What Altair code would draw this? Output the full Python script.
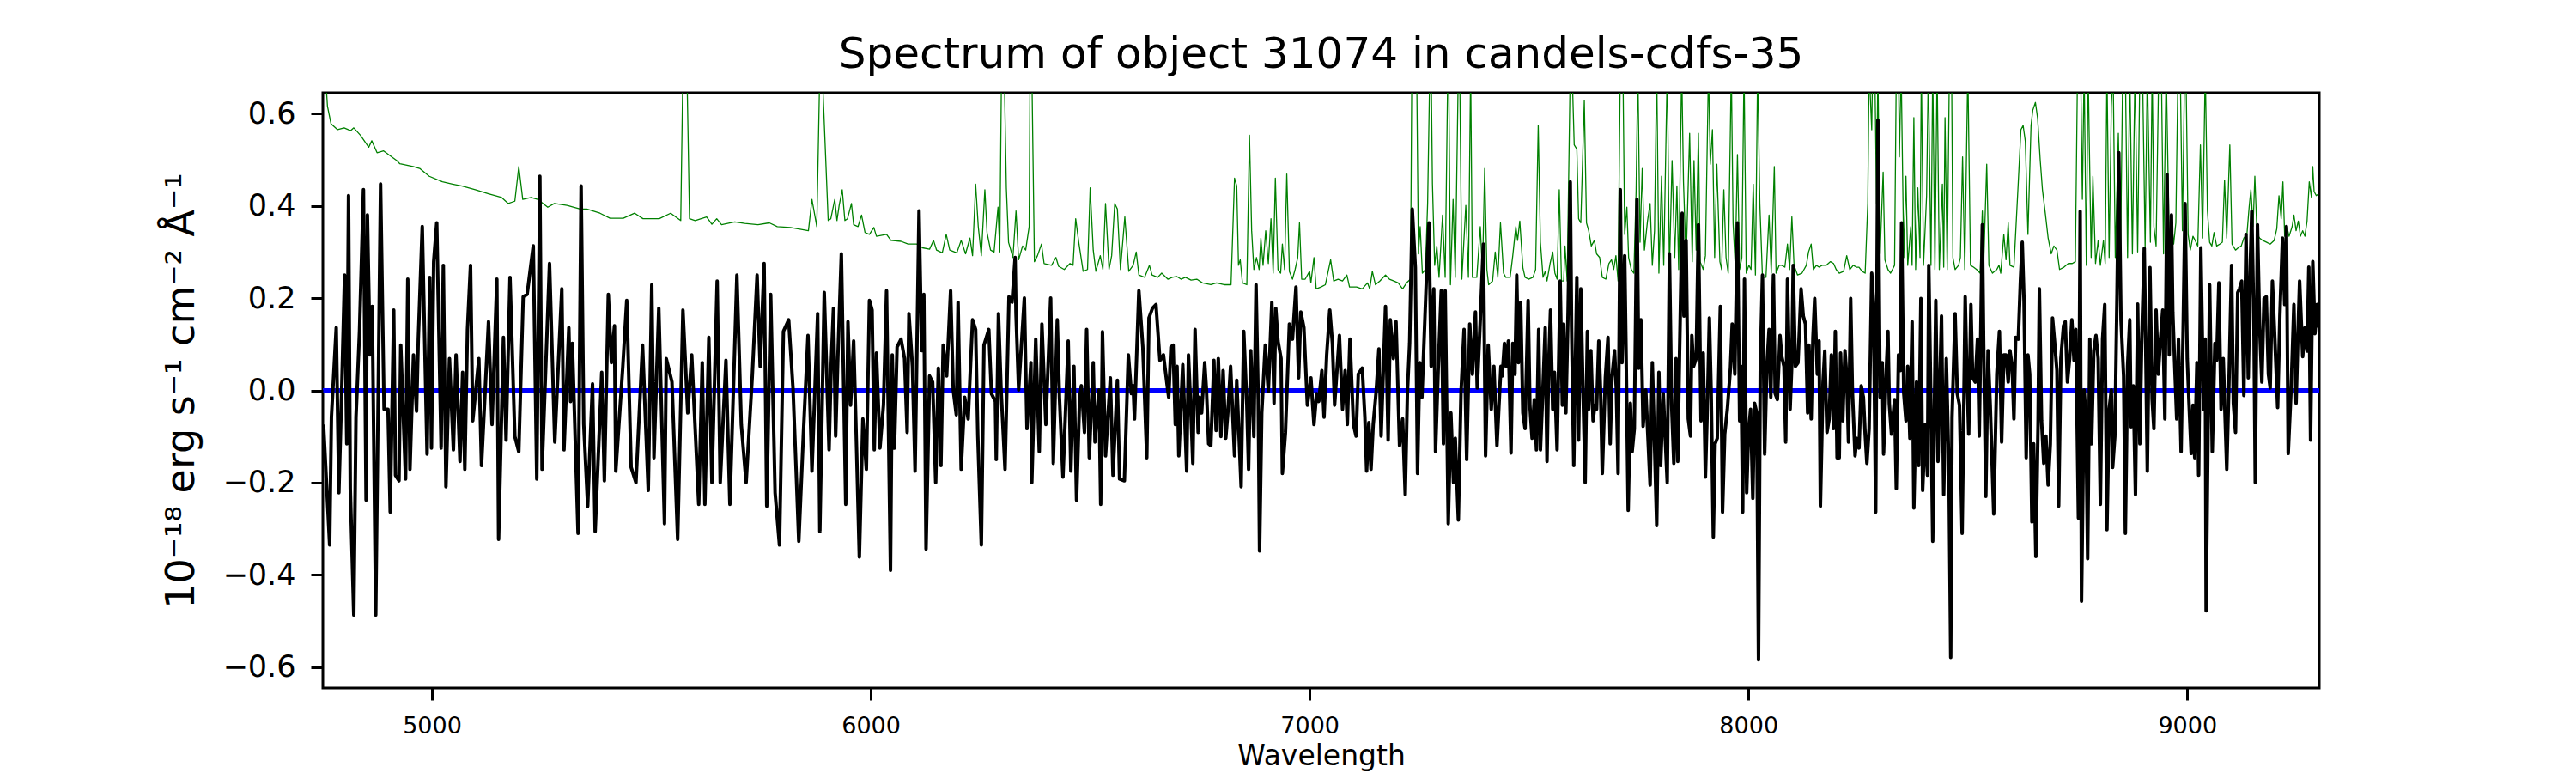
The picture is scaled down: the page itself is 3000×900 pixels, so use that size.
import altair as alt
import pandas as pd

flux_wave_1 = [4753, 4767, 4771, 4782, 4788, 4794, 4801, 4806, 4810, 4814, 4822, 4827, 4835, 4844, 4850,
               4853, 4859, 4864, 4872, 4883, 4891, 4900, 4905, 4913, 4917, 4925, 4929, 4940, 4945, 4950,
               4958, 4965, 4969, 4978, 4989, 4995, 4999, 5004, 5011, 5021, 5026, 5032, 5040, 5049, 5055,
               5064, 5070, 5075, 5081, 5088, 5093, 5107, 5113, 5129, 5137, 5148, 5152, 5163, 5169, 5178,
               5189, 5198, 5208, 5217, 5231, 5239, 5246, 5251, 5268, 5280, 5296, 5301, 5312, 5316, 5320,
               5333, 5340, 5346, 5355, 5366, 5372, 5387, 5393, 5402, 5409, 5416, 5419, 5435, 5444, 5454,
               5465, 5480, 5493, 5501, 5506, 5517, 5530, 5534, 5547, 5560, 5572, 5583, 5592, 5608, 5616,
               5622, 5631, 5638, 5650, 5657, 5670, 5679, 5695, 5705, 5716, 5730, 5741, 5748, 5757, 5763,
               5772, 5782, 5792, 5801, 5813, 5823, 5836, 5847, 5857, 5866, 5879, 5884, 5894, 5905]
flux_val_1 = [-0.074, -0.335, -0.058, 0.136, -0.222, -0.015, 0.250, -0.116, 0.422, -0.213, -0.487, -0.058, 0.128, 0.435, -0.238,
              0.380, 0.077, 0.182, -0.487, 0.447, -0.041, -0.041, -0.264, 0.174, -0.184, -0.196, 0.098, -0.192, 0.241, -0.171,
              0.077, -0.045, 0.111, 0.355, -0.138, 0.245, -0.125, 0.279, 0.363, -0.125, 0.271, -0.209, 0.069, -0.129, 0.077,
              -0.154, 0.039, -0.171, 0.132, 0.271, -0.066, 0.069, -0.163, 0.149, -0.074, 0.241, -0.323, 0.115, -0.108, 0.245,
              -0.100, -0.133, 0.203, 0.208, 0.313, -0.192, 0.464, -0.171, 0.275, -0.112, 0.220, -0.129, 0.136, -0.024, 0.102,
              -0.310, 0.443, -0.074, -0.251, 0.014, -0.306, 0.039, -0.196, 0.208, 0.060, 0.140, -0.175, 0.052, 0.195, -0.167,
              -0.200, 0.098, -0.217, 0.229, -0.146, 0.178, -0.289, 0.069, 0.018, -0.323, 0.174, -0.049, 0.077, -0.247, 0.060,
              -0.247, 0.115, -0.200, 0.237, -0.200, 0.065, -0.247, 0.250, -0.074, -0.200, 0.031, 0.250, 0.052, 0.275, -0.251,
              0.208, -0.222, -0.335, 0.128, 0.153, 0.001, -0.327, -0.083, 0.119, -0.175, 0.166, -0.306, 0.212, -0.129]

flux_wave_2 = [5910, 5915, 5920, 5925, 5933, 5943, 5948, 5954, 5961, 5966, 5974, 5982, 5990, 5997, 6003,
               6008, 6013, 6021, 6029, 6036, 6045, 6049, 6054, 6060, 6069, 6077, 6083, 6087, 6095, 6101,
               6110, 6116, 6121, 6126, 6134, 6141, 6148, 6154, 6160, 6165, 6173, 6182, 6188, 6195, 6199,
               6206, 6214, 6222, 6232, 6239, 6244, 6252, 6258, 6269, 6275, 6284, 6286, 6291, 6297, 6306,
               6315, 6322, 6329, 6331, 6337, 6350, 6356, 6365, 6367, 6376, 6384, 6390, 6399, 6410, 6416,
               6425, 6430, 6438, 6450, 6456, 6463, 6469, 6476, 6480, 6487, 6492, 6498, 6507, 6511, 6520,
               6524, 6528, 6535, 6546, 6552, 6562, 6567, 6578, 6587, 6594, 6598, 6601, 6611, 6620, 6629,
               6634, 6642, 6650, 6659, 6667, 6677]
flux_val_2 = [0.060, 0.178, -0.099, 0.069, 0.296, -0.247, 0.149, -0.032, 0.107, -0.066, -0.361, -0.062, -0.171, 0.195, 0.174,
              -0.129, 0.081, -0.125, -0.032, 0.216, -0.390, 0.077, -0.125, 0.094, 0.111, 0.069, -0.091, 0.166, 0.052, -0.175,
              0.389, 0.086, 0.208, -0.344, 0.031, 0.018, -0.200, 0.048, -0.163, 0.098, 0.031, 0.216, 0.001, -0.053, 0.191,
              -0.171, -0.015, -0.062, 0.153, 0.132, -0.099, -0.335, 0.098, 0.132, -0.007, -0.024, -0.150, 0.166, 0.001, -0.171,
              0.203, 0.191, 0.288, 0.166, 0.001, 0.200, -0.083, 0.060, -0.200, 0.111, -0.133, 0.144, -0.074, 0.200, -0.158,
              0.153, -0.015, -0.188, 0.107, -0.175, 0.052, -0.238, -0.015, 0.010, -0.091, 0.132, -0.146, 0.060, -0.112, 0.001,
              -0.247, 0.127, -0.142, 0.027, -0.184, 0.022, -0.192, -0.196, 0.077, -0.007, 0.010, -0.062, 0.216, 0.094, -0.146,
              0.157, 0.178, 0.186, 0.065, 0.077, -0.001]

flux_wave_3 = [6679, 6684, 6689, 6694, 6698, 6702, 6707, 6711, 6720, 6724, 6730, 6734, 6739, 6746, 6749,
               6754, 6761, 6765, 6770, 6775, 6782, 6787, 6792, 6798, 6803, 6809, 6814, 6820, 6829, 6834,
               6844, 6850, 6857, 6861, 6866, 6873, 6878, 6883, 6886, 6891, 6899, 6906, 6914, 6919, 6923,
               6928, 6935, 6938, 6945, 6954, 6961, 6969, 6975, 6980, 6987, 6995, 7003, 7010, 7016, 7021,
               7028, 7033, 7039, 7046, 7052, 7057, 7063, 7068, 7075, 7081, 7086, 7092, 7100, 7106, 7111,
               7120, 7126, 7130, 7135, 7140, 7145, 7152, 7158, 7163, 7173, 7179, 7184, 7191, 7197, 7205,
               7212, 7218, 7223, 7228, 7234, 7241, 7246, 7251, 7256, 7263, 7267, 7272, 7277, 7283, 7287,
               7293, 7300, 7305, 7309, 7316, 7322, 7328, 7332, 7339, 7345, 7352, 7358, 7365, 7371, 7378,
               7382, 7389, 7396, 7401, 7407, 7414, 7420, 7427, 7436]
flux_val_3 = [-0.015, 0.094, 0.098, -0.074, 0.052, -0.142, -0.032, 0.056, -0.175, 0.077, -0.058, -0.158, 0.132, -0.091, -0.015,
              -0.049, 0.060, 0.001, -0.116, -0.120, 0.065, -0.087, 0.069, -0.100, 0.043, -0.104, -0.045, 0.052, -0.142, 0.022,
              -0.209, 0.128, -0.032, -0.171, 0.086, -0.100, 0.229, -0.020, -0.348, -0.049, 0.098, -0.003, 0.191, -0.028, 0.178,
              0.107, 0.069, -0.180, -0.091, 0.144, 0.111, 0.224, 0.027, 0.170, 0.136, -0.032, 0.027, -0.074, -0.007, -0.024,
              0.043, -0.058, 0.077, 0.174, 0.102, -0.032, 0.052, 0.119, -0.041, 0.043, -0.074, 0.111, -0.074, -0.099, 0.035,
              0.048, -0.058, -0.175, -0.070, -0.171, -0.074, 0.001, 0.090, -0.099, 0.182, -0.108, 0.153, 0.069, 0.149, -0.120,
              -0.062, -0.226, -0.003, 0.102, 0.393, 0.266, -0.180, 0.060, -0.015, 0.161, 0.262, 0.363, 0.052, 0.220, -0.133,
              0.043, 0.216, -0.116, 0.216, -0.289, -0.049, -0.200, -0.104, -0.281, -0.007, 0.132, -0.150, 0.144, 0.035, 0.170,
              0.005, 0.153, 0.317, -0.142, 0.098, -0.041, 0.052, -0.120, 0.052]

flux_wave_4 = [7439, 7444, 7448, 7453, 7459, 7463, 7468, 7472, 7476, 7481, 7486, 7491, 7498, 7502, 7507,
               7512, 7517, 7522, 7526, 7532, 7537, 7541, 7545, 7549, 7554, 7558, 7564, 7571, 7576, 7579,
               7584, 7589, 7594, 7597, 7602, 7609, 7613, 7618, 7623, 7628, 7633, 7636, 7641, 7646, 7650,
               7654, 7659, 7663, 7667, 7674, 7680, 7685, 7689, 7695, 7699, 7703, 7708, 7712, 7718, 7721,
               7726, 7731, 7735, 7740, 7746, 7750, 7755, 7760, 7766, 7776, 7781, 7786, 7791, 7796, 7800,
               7806, 7811, 7815, 7820, 7825, 7830, 7835, 7839, 7843, 7849, 7853, 7858, 7863, 7868, 7871,
               7875, 7881, 7886, 7892, 7897, 7902, 7907, 7911, 7915, 7920, 7924, 7929, 7936, 7941, 7946,
               7952, 7959, 7963, 7969, 7975, 7980, 7983, 7987, 7991, 7996, 8000, 8005, 8010, 8014, 8019,
               8023, 8027, 8032, 8037, 8042, 8047, 8051, 8057, 8061, 8066, 8072, 8076, 8081, 8085, 8089,
               8095, 8099, 8102, 8107, 8113, 8120, 8125, 8130, 8135, 8138, 8143, 8147, 8151, 8157, 8161,
               8164, 8170, 8174, 8179, 8184, 8189, 8194, 8198, 8202]
flux_val_4 = [0.031, 0.102, 0.052, 0.107, -0.136, 0.102, 0.035, 0.250, 0.060, 0.191, -0.049, -0.083, 0.195, -0.032, -0.104,
              -0.020, -0.129, 0.132, -0.129, 0.010, 0.136, -0.154, 0.060, 0.174, -0.041, 0.039, -0.129, 0.237, -0.032, 0.144,
              -0.049, 0.170, 0.452, 0.136, -0.163, 0.245, -0.108, 0.220, 0.001, -0.200, 0.128, -0.041, 0.086, -0.066, -0.032,
              -0.041, 0.107, 0.001, -0.180, 0.027, 0.115, -0.116, 0.027, 0.086, 0.001, -0.180, 0.435, 0.060, 0.292, 0.094,
              -0.260, -0.028, -0.133, -0.083, 0.414, 0.048, 0.153, -0.078, 0.001, -0.205, 0.060, -0.116, -0.293, 0.039, -0.163,
              -0.007, -0.116, -0.200, 0.296, -0.032, -0.158, 0.069, -0.154, 0.077, 0.384, 0.161, 0.325, -0.062, -0.099, 0.119,
              0.052, 0.069, 0.359, -0.066, 0.081, -0.188, -0.015, 0.157, 0.001, -0.318, -0.116, -0.104, 0.182, -0.264, -0.095,
              -0.041, 0.048, 0.144, 0.035, 0.363, -0.066, 0.052, -0.264, 0.241, -0.222, -0.095, -0.041, -0.234, -0.028, -0.049,
              -0.584, 0.052, 0.250, -0.138, 0.052, 0.132, -0.015, 0.250, -0.007, -0.020, 0.119, 0.073, 0.052, -0.112, 0.241,
              -0.041, 0.060, 0.271, 0.052, 0.060, 0.220, 0.161, 0.144, -0.049, 0.098, -0.062, 0.115, 0.199, 0.035, 0.107,
              -0.251, 0.018, 0.085, -0.091, -0.062, 0.077, -0.083, 0.128, -0.146]

flux_wave_5 = [8207, 8210, 8215, 8220, 8224, 8228, 8233, 8237, 8243, 8247, 8252, 8257, 8262, 8266, 8270,
               8275, 8281, 8285, 8290, 8295, 8300, 8305, 8308, 8313, 8318, 8321, 8326, 8333, 8337, 8342,
               8346, 8349, 8354, 8359, 8363, 8368, 8373, 8377, 8383, 8388, 8393, 8397, 8403, 8408, 8411,
               8416, 8420, 8427, 8432, 8440, 8445, 8451, 8457, 8461, 8464, 8471, 8476, 8481, 8487, 8494,
               8497, 8502, 8507, 8511, 8517, 8522, 8526, 8533, 8536, 8541, 8546, 8551, 8559, 8566, 8572,
               8577, 8582, 8587, 8592, 8596, 8601, 8605, 8609, 8615, 8620, 8624, 8628, 8633, 8637, 8641,
               8646, 8650, 8655, 8660, 8663, 8668, 8673, 8678, 8683, 8688, 8693, 8698, 8703, 8707, 8712,
               8718, 8722, 8727, 8732, 8737, 8742, 8746, 8752, 8756, 8759, 8765, 8769, 8773, 8778, 8782,
               8787, 8792, 8797, 8802, 8807, 8812, 8817, 8822, 8827, 8830, 8835, 8840, 8844, 8849, 8855,
               8859, 8864, 8869, 8872, 8877, 8882, 8887, 8892, 8896, 8902, 8905, 8909, 8915, 8920, 8924,
               8929, 8934, 8939, 8944, 8949, 8954, 8959, 8964]
flux_val_5 = [-0.146, 0.081, -0.066, 0.086, 0.031, -0.112, 0.199, -0.003, -0.142, -0.104, -0.125, 0.010, -0.015, -0.095, -0.158,
              -0.083, 0.254, 0.186, -0.264, 0.586, -0.015, 0.060, -0.138, 0.018, 0.128, -0.028, -0.095, -0.020, -0.213, 0.077,
              0.043, 0.363, -0.007, -0.066, 0.052, -0.104, 0.149, -0.255, 0.018, -0.163, 0.199, -0.217, -0.074, -0.184, 0.271,
              -0.041, -0.327, 0.195, -0.154, 0.161, -0.226, 0.069, -0.180, -0.579, -0.058, 0.166, -0.007, -0.032, -0.310, 0.203,
              0.069, -0.095, 0.186, 0.027, 0.018, 0.111, -0.099, 0.359, 0.102, -0.230, 0.086, -0.032, -0.268, 0.035, 0.128,
              -0.112, 0.077, 0.077, 0.018, 0.086, 0.052, -0.062, 0.115, 0.111, 0.241, 0.321, 0.195, -0.146, 0.077, 0.035,
              -0.285, -0.116, -0.360, -0.074, 0.220, -0.066, -0.158, -0.099, -0.205, -0.116, 0.157, 0.102, 0.043, -0.251, 0.069,
              0.140, 0.149, 0.018, 0.069, 0.153, 0.065, 0.132, -0.277, 0.388, -0.457, 0.001, -0.058, -0.365, 0.111, -0.116,
              0.086, 0.119, 0.069, -0.247, 0.111, 0.186, -0.302, -0.041, 0.001, -0.167, -0.100, 0.212, 0.515, 0.153, 0.031,
              -0.310, 0.052, 0.153, -0.079, 0.010, -0.226, 0.187, -0.116, 0.098, 0.308, 0.119, -0.175, 0.266, -0.020, -0.083,
              0.174, 0.035, 0.111, 0.174, -0.062, 0.468, 0.077, 0.380]

flux_wave_6 = [8967, 8971, 8976, 8980, 8986, 8991, 8995, 9000, 9004, 9009, 9013, 9017, 9022, 9026, 9031,
               9037, 9041, 9043, 9048, 9051, 9057, 9063, 9067, 9072, 9077, 9082, 9090, 9095, 9101, 9105,
               9110, 9115, 9119, 9124, 9129, 9134, 9139, 9144, 9147, 9152, 9155, 9160, 9165, 9170, 9175,
               9180, 9185, 9189, 9194, 9200, 9206, 9211, 9217, 9222, 9226, 9230, 9237, 9243, 9248, 9252,
               9256, 9263, 9268, 9273, 9277, 9281, 9286, 9291, 9296, 9299]
flux_val_6 = [0.170, 0.065, -0.062, 0.111, -0.133, 0.153, 0.405, 0.069, -0.028, -0.137, -0.032, -0.146, 0.060, -0.184, 0.309,
              -0.041, 0.111, -0.478, -0.032, 0.229, -0.133, 0.102, 0.065, 0.233, -0.041, 0.069, -0.171, 0.014, 0.271, -0.028,
              -0.091, 0.212, 0.220, 0.237, -0.011, 0.338, 0.027, 0.283, 0.388, 0.136, -0.200, 0.359, 0.136, 0.018, 0.199,
              0.203, 0.035, 0.005, 0.237, 0.102, -0.037, 0.161, 0.330, 0.186, 0.355, -0.137, 0.010, 0.186, -0.028, 0.111,
              0.237, 0.073, 0.136, 0.085, 0.267, -0.108, 0.279, 0.123, 0.186, 0.136]

# ---------------- noise / error spectrum (green); 0.70 = sky-line spike above the frame ----------------
err_wave_1 = [4751, 4759, 4762, 4770, 4785, 4800, 4815, 4822, 4837, 4856, 4863, 4875, 4890, 4920, 4927,
              4957, 4972, 4994, 5024, 5047, 5069, 5099, 5129, 5159, 5174, 5189, 5198, 5207, 5226, 5241,
              5264, 5279, 5308, 5338, 5353, 5383, 5406, 5436, 5462, 5481, 5518, 5544, 5567, 5572, 5581,
              5587, 5600, 5626, 5638, 5649, 5660, 5690, 5713, 5743, 5769, 5787, 5817, 5858, 5866, 5877,
              5884, 5889, 5903]
err_val_1 = [0.70, 0.66, 0.616, 0.578, 0.565, 0.569, 0.563, 0.569, 0.553, 0.527, 0.541, 0.515, 0.519, 0.498, 0.491,
             0.485, 0.481, 0.464, 0.452, 0.447, 0.443, 0.435, 0.426, 0.418, 0.405, 0.410, 0.485, 0.414, 0.418, 0.414,
             0.397, 0.405, 0.401, 0.393, 0.393, 0.384, 0.373, 0.373, 0.384, 0.372, 0.372, 0.384, 0.368, 0.70, 0.70,
             0.372, 0.368, 0.376, 0.360, 0.372, 0.359, 0.365, 0.362, 0.359, 0.363, 0.355, 0.353, 0.346, 0.414, 0.355,
             0.70, 0.70, 0.368]

err_wave_2 = [5909, 5918, 5923, 5928, 5935, 5941, 5947, 5956, 5961, 5971, 5979, 5987, 5997, 6007, 6013,
              6036, 6046, 6069, 6085, 6105, 6118, 6134, 6143, 6150, 6163, 6172, 6180, 6196, 6206, 6216,
              6226, 6232, 6239, 6245, 6252, 6260, 6265, 6273, 6281, 6290, 6294, 6298, 6304, 6309, 6314,
              6324, 6331, 6337, 6346, 6353, 6361, 6363, 6367, 6373, 6380, 6389, 6395, 6412, 6422, 6428,
              6441, 6454, 6461, 6467, 6474, 6484, 6494, 6500, 6507, 6513, 6523, 6529, 6535, 6543, 6549,
              6556, 6562, 6569, 6579, 6588, 6598, 6605, 6611, 6624, 6635, 6641, 6654, 6663, 6677]
err_val_2 = [0.372, 0.414, 0.368, 0.401, 0.435, 0.368, 0.372, 0.405, 0.359, 0.355, 0.380, 0.342, 0.338, 0.353, 0.334,
             0.338, 0.325, 0.323, 0.317, 0.317, 0.309, 0.306, 0.325, 0.304, 0.298, 0.338, 0.304, 0.298, 0.325, 0.296,
             0.330, 0.292, 0.447, 0.355, 0.292, 0.435, 0.342, 0.304, 0.300, 0.397, 0.300, 0.70, 0.70, 0.439, 0.321,
             0.288, 0.389, 0.283, 0.313, 0.304, 0.355, 0.70, 0.70, 0.279, 0.292, 0.317, 0.275, 0.271, 0.288, 0.269,
             0.262, 0.275, 0.271, 0.372, 0.321, 0.258, 0.262, 0.439, 0.304, 0.258, 0.292, 0.262, 0.405, 0.262, 0.292,
             0.405, 0.393, 0.262, 0.376, 0.258, 0.271, 0.300, 0.250, 0.245, 0.271, 0.250, 0.245, 0.254, 0.241]

err_wave_3 = [6687, 6697, 6707, 6717, 6730, 6743, 6756, 6775, 6788, 6805, 6821, 6829, 6834, 6838, 6842,
              6847, 6857, 6863, 6868, 6873, 6879, 6885, 6889, 6894, 6900, 6906, 6912, 6917, 6922, 6928,
              6934, 6938, 6943, 6948, 6954, 6961, 6967, 6973, 6977, 6982, 6990, 7000, 7003, 7010, 7015,
              7026, 7036, 7048, 7055, 7065, 7075, 7085, 7091, 7107, 7120, 7132, 7137, 7143, 7150, 7160,
              7173, 7182, 7192, 7202, 7212, 7221, 7230, 7233, 7244, 7248, 7252, 7257, 7264, 7269, 7274,
              7277, 7280, 7285, 7290, 7295, 7303, 7309, 7315, 7317, 7321, 7327, 7332, 7339, 7342, 7347,
              7356, 7362, 7367, 7371, 7381, 7389, 7394, 7399, 7404, 7408, 7417, 7423, 7429, 7435]
err_val_3 = [0.245, 0.247, 0.241, 0.245, 0.239, 0.241, 0.233, 0.229, 0.233, 0.229, 0.229, 0.460, 0.443, 0.271, 0.283,
             0.233, 0.229, 0.553, 0.346, 0.262, 0.288, 0.262, 0.330, 0.271, 0.346, 0.275, 0.372, 0.254, 0.460, 0.262,
             0.254, 0.317, 0.262, 0.469, 0.258, 0.241, 0.262, 0.288, 0.363, 0.241, 0.241, 0.258, 0.233, 0.288, 0.220,
             0.224, 0.229, 0.283, 0.237, 0.241, 0.237, 0.250, 0.224, 0.224, 0.220, 0.233, 0.220, 0.258, 0.229, 0.237,
             0.250, 0.241, 0.237, 0.233, 0.220, 0.233, 0.241, 0.70, 0.70, 0.296, 0.355, 0.254, 0.262, 0.405, 0.70,
             0.70, 0.447, 0.271, 0.313, 0.245, 0.380, 0.245, 0.70, 0.70, 0.229, 0.414, 0.245, 0.70, 0.70, 0.241,
             0.401, 0.245, 0.70, 0.245, 0.245, 0.355, 0.254, 0.481, 0.262, 0.229, 0.237, 0.300, 0.245, 0.363]

err_wave_4 = [7442, 7447, 7457, 7463, 7470, 7474, 7479, 7486, 7491, 7499, 7509, 7515, 7521, 7526, 7532,
              7537, 7541, 7548, 7554, 7559, 7564, 7569, 7574, 7579, 7582, 7587, 7594, 7598, 7603, 7609,
              7613, 7618, 7626, 7631, 7636, 7642, 7649, 7654, 7661, 7667, 7675, 7682, 7688, 7693, 7698,
              7703, 7708, 7714, 7718, 7723, 7727, 7733, 7739, 7744, 7748, 7753, 7758, 7763, 7770, 7776,
              7781, 7786, 7791, 7796, 7802, 7807, 7815, 7820, 7826, 7832, 7837, 7841, 7848, 7852, 7858,
              7866, 7872, 7876, 7881, 7886, 7890, 7897, 7902, 7909, 7913, 7918, 7923, 7928, 7935, 7939,
              7944, 7949, 7954, 7961, 7965, 7970, 7975, 7980, 7985, 7990, 7995, 8001, 8006, 8011, 8016,
              8021, 8026, 8032, 8040, 8047, 8052, 8059, 8063, 8070, 8076, 8083, 8089, 8094, 8099, 8104,
              8112, 8122, 8132, 8137, 8143, 8148, 8155, 8161, 8168, 8177, 8187, 8194, 8200]
err_val_4 = [0.254, 0.245, 0.245, 0.292, 0.355, 0.325, 0.367, 0.266, 0.245, 0.241, 0.245, 0.262, 0.574, 0.321, 0.245,
             0.258, 0.237, 0.275, 0.300, 0.254, 0.241, 0.435, 0.237, 0.237, 0.313, 0.237, 0.70, 0.70, 0.532, 0.523,
             0.372, 0.363, 0.628, 0.363, 0.346, 0.313, 0.325, 0.296, 0.288, 0.245, 0.241, 0.275, 0.283, 0.262, 0.292,
             0.237, 0.70, 0.70, 0.338, 0.397, 0.288, 0.262, 0.254, 0.431, 0.70, 0.321, 0.481, 0.304, 0.367, 0.405,
             0.271, 0.346, 0.70, 0.254, 0.464, 0.271, 0.70, 0.262, 0.498, 0.288, 0.443, 0.262, 0.70, 0.452, 0.279,
             0.557, 0.279, 0.498, 0.304, 0.557, 0.279, 0.262, 0.292, 0.70, 0.490, 0.565, 0.288, 0.490, 0.279, 0.262,
             0.435, 0.288, 0.254, 0.70, 0.363, 0.271, 0.511, 0.262, 0.288, 0.70, 0.254, 0.271, 0.262, 0.447, 0.250,
             0.70, 0.405, 0.245, 0.245, 0.380, 0.254, 0.485, 0.254, 0.271, 0.271, 0.267, 0.317, 0.262, 0.376, 0.271,
             0.250, 0.254, 0.271, 0.300, 0.317, 0.262, 0.271, 0.267, 0.271, 0.271, 0.279, 0.275, 0.262]

err_wave_5 = [8207, 8217, 8224, 8231, 8239, 8246, 8252, 8259, 8266, 8272, 8275, 8281, 8283, 8288, 8292,
              8295, 8300, 8307, 8311, 8318, 8324, 8333, 8337, 8342, 8344, 8348, 8354, 8359, 8363, 8370,
              8373, 8377, 8381, 8386, 8391, 8394, 8399, 8406, 8410, 8416, 8420, 8425, 8430, 8435, 8442,
              8445, 8448, 8453, 8458, 8463, 8466, 8471, 8479, 8483, 8488, 8493, 8500, 8506, 8513, 8520,
              8528, 8533, 8536, 8543, 8548, 8556, 8566, 8571, 8575, 8582, 8587, 8592, 8596, 8605, 8615,
              8621, 8626, 8631, 8637, 8644, 8648, 8654, 8659, 8665, 8670, 8677, 8683, 8690, 8696, 8703,
              8709, 8719, 8729, 8738, 8745, 8750, 8757, 8761, 8765, 8770, 8774, 8781, 8785, 8791, 8797,
              8802, 8809, 8813, 8817, 8822, 8827, 8831, 8836, 8843, 8848, 8853, 8859, 8864, 8869, 8875,
              8881, 8887, 8892, 8898, 8904, 8909, 8916, 8920, 8924, 8929, 8935, 8941, 8946, 8952, 8959,
              8964]
err_val_5 = [0.254, 0.258, 0.292, 0.262, 0.271, 0.267, 0.267, 0.258, 0.254, 0.405, 0.70, 0.565, 0.70, 0.70, 0.405,
             0.70, 0.296, 0.473, 0.283, 0.262, 0.254, 0.271, 0.70, 0.70, 0.506, 0.70, 0.288, 0.464, 0.271, 0.355,
             0.271, 0.591, 0.262, 0.439, 0.288, 0.70, 0.271, 0.422, 0.70, 0.271, 0.70, 0.262, 0.70, 0.262, 0.447,
             0.267, 0.591, 0.262, 0.70, 0.70, 0.288, 0.262, 0.271, 0.288, 0.506, 0.262, 0.70, 0.271, 0.267, 0.262,
             0.254, 0.389, 0.271, 0.490, 0.271, 0.254, 0.262, 0.271, 0.254, 0.338, 0.283, 0.363, 0.271, 0.267, 0.452,
             0.565, 0.574, 0.540, 0.338, 0.574, 0.607, 0.624, 0.590, 0.498, 0.435, 0.380, 0.330, 0.296, 0.313, 0.304,
             0.262, 0.267, 0.275, 0.275, 0.279, 0.70, 0.70, 0.414, 0.70, 0.271, 0.70, 0.288, 0.464, 0.275, 0.325,
             0.271, 0.325, 0.275, 0.70, 0.288, 0.616, 0.70, 0.288, 0.557, 0.296, 0.70, 0.70, 0.288, 0.70, 0.296,
             0.70, 0.300, 0.70, 0.70, 0.309, 0.70, 0.321, 0.70, 0.355, 0.313, 0.70, 0.70, 0.296, 0.70, 0.321,
             0.372]

err_wave_6 = [8969, 8974, 8979, 8984, 8989, 8994, 8997, 9002, 9007, 9013, 9018, 9024, 9030, 9035, 9041,
              9046, 9051, 9056, 9061, 9067, 9074, 9080, 9085, 9090, 9097, 9102, 9110, 9116, 9123, 9129,
              9136, 9141, 9145, 9150, 9154, 9159, 9165, 9172, 9181, 9189, 9198, 9204, 9209, 9214, 9218,
              9222, 9227, 9232, 9239, 9243, 9248, 9253, 9258, 9263, 9268, 9273, 9278, 9283, 9286, 9289,
              9294, 9299]
err_val_6 = [0.317, 0.363, 0.70, 0.70, 0.346, 0.70, 0.70, 0.338, 0.304, 0.334, 0.325, 0.313, 0.532, 0.330, 0.70,
             0.389, 0.321, 0.313, 0.342, 0.313, 0.317, 0.321, 0.456, 0.330, 0.532, 0.317, 0.304, 0.309, 0.313, 0.330,
             0.338, 0.397, 0.435, 0.355, 0.464, 0.338, 0.330, 0.325, 0.321, 0.317, 0.325, 0.350, 0.422, 0.372, 0.452,
             0.334, 0.355, 0.334, 0.355, 0.380, 0.346, 0.367, 0.334, 0.346, 0.334, 0.367, 0.452, 0.418, 0.485, 0.431,
             0.422, 0.426]

x_ticks = [5000, 6000, 7000, 8000, 9000]
y_ticks = [-0.6, -0.4, -0.2, 0.0, 0.2, 0.4, 0.6]
x_limits = [4751.5, 9300.8]
y_limits = [-0.645, 0.645]
zero_level = [0.0]

title_text = "Spectrum of object 31074 in candels-cdfs-35"
x_title = "Wavelength"
y_title = "10\u207b\u00b9\u2078 erg s\u207b\u00b9 cm\u207b\u00b2 \u00c5\u207b\u00b9"

# ---------------- assemble tables ----------------
flux_wave = flux_wave_1 + flux_wave_2 + flux_wave_3 + flux_wave_4 + flux_wave_5 + flux_wave_6
flux_val = flux_val_1 + flux_val_2 + flux_val_3 + flux_val_4 + flux_val_5 + flux_val_6
err_wave = err_wave_1 + err_wave_2 + err_wave_3 + err_wave_4 + err_wave_5 + err_wave_6
err_val = err_val_1 + err_val_2 + err_val_3 + err_val_4 + err_val_5 + err_val_6

n_f = min(len(flux_wave), len(flux_val))
n_e = min(len(err_wave), len(err_val))
flux_df = pd.DataFrame({"wave": flux_wave[:n_f], "flux": flux_val[:n_f]})
err_df = pd.DataFrame({"wave": err_wave[:n_e], "err": err_val[:n_e]})
zero_df = pd.DataFrame({"level": zero_level})

FONT = "DejaVu Sans"
PLOT_W, PLOT_H = 2325, 693

x_scale = alt.Scale(domain=x_limits, nice=False, zero=False)
y_scale = alt.Scale(domain=y_limits, nice=False, zero=False)

x_axis = alt.Axis(values=x_ticks, format="d", labelFontSize=27, tickSize=14, tickWidth=3,
                  labelPadding=17, labelFont=FONT, labelColor="black", tickColor="black",
                  title=x_title, titleFont=FONT, titleFontSize=33, titleFontWeight="normal",
                  titleColor="black", titleX=PLOT_W / 2, titleY=89,
                  titleBaseline="alphabetic", titleAlign="center", grid=False, domain=False, zindex=1)
y_axis = alt.Axis(values=y_ticks, format=".1f", labelFontSize=35, tickSize=14, tickWidth=3,
                  labelPadding=18, labelFont=FONT, labelColor="black", tickColor="black",
                  title=y_title, titleFont=FONT, titleFontSize=46, titleFontWeight="normal",
                  titleColor="black", titleX=-151, titleY=PLOT_H / 2,
                  titleAngle=270, titleBaseline="alphabetic", titleAlign="center",
                  grid=False, domain=False, zindex=1)

err_line = alt.Chart(err_df).mark_line(color="#008000", strokeWidth=1.3, clip=True,
                                       strokeJoin="round").encode(
    x=alt.X("wave:Q", scale=x_scale, axis=x_axis),
    y=alt.Y("err:Q", scale=y_scale, axis=y_axis),
)

zero_line = alt.Chart(zero_df).mark_rule(color="#0000ff", strokeWidth=5, clip=True).encode(
    y=alt.Y("level:Q", scale=y_scale),
)

flux_line = alt.Chart(flux_df).mark_line(color="#000000", strokeWidth=4, clip=True,
                                         strokeJoin="round").encode(
    x=alt.X("wave:Q", scale=x_scale),
    y=alt.Y("flux:Q", scale=y_scale),
)

chart = alt.layer(err_line, zero_line, flux_line).properties(
    width=PLOT_W,
    height=PLOT_H,
    background="white",
    title=alt.TitleParams(title_text, font=FONT, fontSize=50, fontWeight="normal", color="black",
                          anchor="middle", frame="group", baseline="alphabetic", offset=-21),
    autosize=alt.AutoSizeParams(type="none"),
    padding={"left": 368, "top": 100, "right": 291, "bottom": 99},
).configure_view(
    stroke="black", strokeWidth=3,
)

chart.save("out.html", embed_options={"renderer": "svg", "actions": False})
